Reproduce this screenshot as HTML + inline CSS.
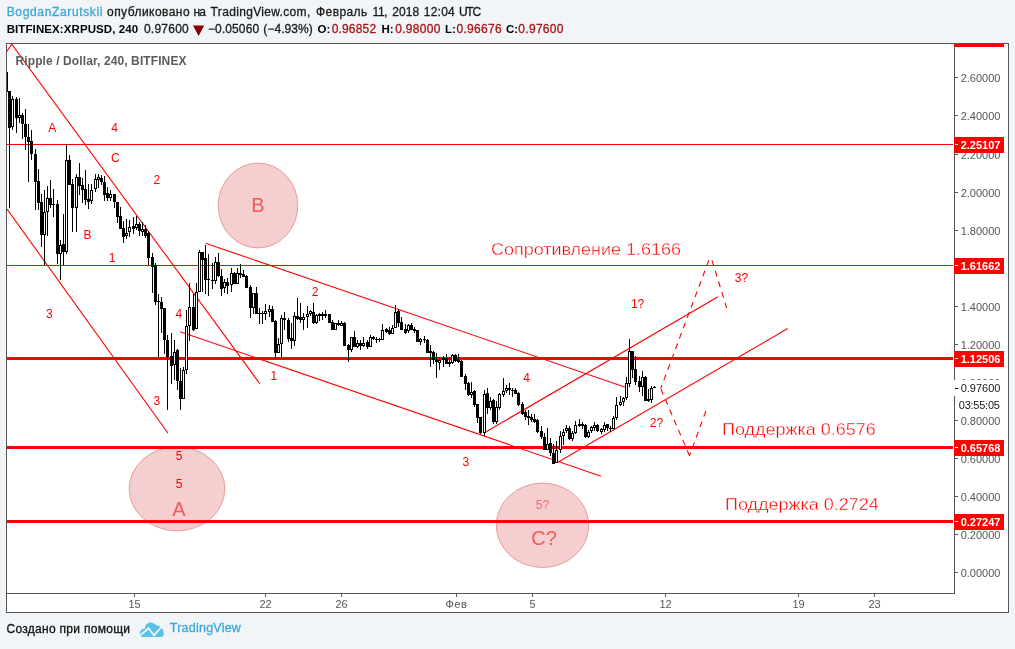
<!DOCTYPE html>
<html><head><meta charset="utf-8"><title>chart</title>
<style>
html,body{margin:0;padding:0;}
body{width:1015px;height:649px;background:#f1f5f8;position:relative;overflow:hidden;font-family:"Liberation Sans",sans-serif;}
.t{position:absolute;white-space:pre;line-height:1;}
#wrap{position:absolute;left:0;top:0;width:1015px;height:649px;will-change:transform;}
#box{position:absolute;left:6px;top:43px;width:1001px;height:568px;border:1px solid #555;background:#fff;}
svg{position:absolute;left:0;top:0;}
.tk{position:absolute;left:955px;width:3px;height:1px;background:#555;}
.ax{left:960.7px;font-size:11px;color:#555;}
.pl{position:absolute;left:954px;width:50px;height:16px;background:#f00;color:#fff;font-weight:bold;font-size:11px;line-height:17px;text-indent:6.7px;white-space:nowrap;}
.pl i{position:absolute;left:1px;top:7px;width:3px;height:1px;background:#fff;}
.tt{position:absolute;top:594px;width:1px;height:3px;background:#555;}
.tl{top:599px;width:40px;text-align:center;font-size:11px;color:#555;}
.lb{width:40px;text-align:center;font-size:12px;color:#f00;}
.big{width:60px;text-align:center;font-size:20px;color:#f35a5a;}

</style></head><body>
<div id="wrap">
<div id="box"></div>
<svg width="1015" height="649" viewBox="0 0 1015 649">
<defs><clipPath id="cp"><rect x="7" y="44" width="946" height="549"/></clipPath></defs>
<rect x="954" y="44" width="1" height="549" fill="#555"/>
<rect x="954" y="44" width="50" height="3" fill="#f00"/>
<rect x="7" y="593" width="948" height="1" fill="#555"/>
<path d="M193,25.5 L204.2,25.5 L198.6,36 Z" fill="#8b0000"/>
<path d="M142.6,637 C140.9,637 139.8,635.6 139.8,633.8 C139.8,631 141.8,628.7 144.9,628.4 C145.2,625.1 147.5,622.6 150.6,622.6 C152.8,622.6 154.6,623.6 155.8,625 C157.5,625.3 159.2,626 160.4,627 C162.6,628.6 163.8,631 163.8,633.5 C163.8,635.6 162.7,637 161,637 Z" fill="#57c1e6"/>
<path d="M140.3,635.4 L148.6,628.3 L154,635.4 L161.2,627.2" fill="none" stroke="#f8fbfd" stroke-width="1.7" stroke-linejoin="miter"/>

<g clip-path="url(#cp)">
<!--LABELS_UNDER-->
<ellipse cx="258" cy="205.5" rx="39.8" ry="42.4" fill="#f5cfcf" stroke="#ec9a9a" stroke-width="1"/>
<ellipse cx="177" cy="488.8" rx="47.8" ry="42" fill="#f5cfcf" stroke="#ec9a9a" stroke-width="1"/>
<ellipse cx="542.5" cy="525.3" rx="46.2" ry="42.2" fill="#f5cfcf" stroke="#ec9a9a" stroke-width="1"/>
<rect x="7" y="144" width="948" height="1" fill="#f00"/>
<rect x="7" y="265" width="948" height="1" fill="#f00"/>
<rect x="7" y="357" width="947" height="3" fill="#f00"/>
<rect x="7" y="446" width="947" height="3" fill="#f00"/>
<rect x="7" y="520" width="947" height="3" fill="#f00"/>
<line x1="6.75" y1="51.6" x2="11.7" y2="44.2" stroke="#f00" stroke-width="1.1"/>
<line x1="11.7" y1="44.2" x2="260" y2="384" stroke="#f00" stroke-width="1.1"/>
<line x1="7" y1="209" x2="168" y2="433.3" stroke="#f00" stroke-width="1.1"/>
<line x1="205.5" y1="243.2" x2="625.3" y2="387.3" stroke="#f00" stroke-width="1.1"/>
<line x1="180.1" y1="331.7" x2="601.1" y2="476.2" stroke="#f00" stroke-width="1.1"/>
<line x1="484.3" y1="432.8" x2="718" y2="296.7" stroke="#f00" stroke-width="1.1"/>
<line x1="557" y1="462.8" x2="787.7" y2="328.6" stroke="#f00" stroke-width="1.1"/>
<line x1="712.0" y1="260.3" x2="726.6" y2="307.8" stroke="#f00" stroke-width="1.1" stroke-dasharray="6 5.1"/>
<line x1="708.8" y1="260.3" x2="660.7" y2="388.5" stroke="#f00" stroke-width="1.1" stroke-dasharray="6 5.1"/>
<line x1="705.9" y1="411" x2="689.5" y2="455.8" stroke="#f00" stroke-width="1.1" stroke-dasharray="6 5.1"/>
<line x1="689.5" y1="455.8" x2="660.7" y2="388.5" stroke="#f00" stroke-width="1.1" stroke-dasharray="6 5.1"/>
<g shape-rendering="crispEdges" fill="#000">
<rect x="9" y="91" width="1" height="117"/>
<rect x="8" y="91" width="3" height="37"/>
<rect x="12" y="96" width="1" height="34"/>
<rect x="11" y="99" width="3" height="28"/>
<rect x="12" y="100" width="1" height="26" fill="#fff"/>
<rect x="16" y="97" width="1" height="36"/>
<rect x="15" y="99" width="3" height="19"/>
<rect x="19" y="98" width="1" height="25"/>
<rect x="18" y="115" width="3" height="3"/>
<rect x="19" y="116" width="1" height="1" fill="#fff"/>
<rect x="22" y="113" width="1" height="26"/>
<rect x="21" y="115" width="3" height="9"/>
<rect x="25" y="109" width="1" height="41"/>
<rect x="24" y="124" width="3" height="13"/>
<rect x="28" y="124" width="1" height="58"/>
<rect x="27" y="137" width="3" height="5"/>
<rect x="31" y="130" width="1" height="30"/>
<rect x="30" y="141" width="3" height="13"/>
<rect x="35" y="149" width="1" height="61"/>
<rect x="34" y="154" width="3" height="28"/>
<rect x="38" y="169" width="1" height="41"/>
<rect x="37" y="181" width="3" height="22"/>
<rect x="41" y="194" width="1" height="53"/>
<rect x="40" y="202" width="3" height="33"/>
<rect x="44" y="190" width="1" height="75"/>
<rect x="43" y="212" width="3" height="23"/>
<rect x="44" y="213" width="1" height="21" fill="#fff"/>
<rect x="47" y="186" width="1" height="50"/>
<rect x="46" y="198" width="3" height="14"/>
<rect x="47" y="199" width="1" height="12" fill="#fff"/>
<rect x="50" y="180" width="1" height="28"/>
<rect x="49" y="198" width="3" height="7"/>
<rect x="53" y="189" width="1" height="28"/>
<rect x="52" y="204" width="3" height="1"/>
<rect x="57" y="200" width="1" height="64"/>
<rect x="56" y="204" width="3" height="50"/>
<rect x="60" y="240" width="1" height="40"/>
<rect x="59" y="245" width="3" height="9"/>
<rect x="60" y="246" width="1" height="7" fill="#fff"/>
<rect x="63" y="214" width="1" height="51"/>
<rect x="62" y="244" width="3" height="8"/>
<rect x="66" y="144" width="1" height="110"/>
<rect x="65" y="160" width="3" height="92"/>
<rect x="66" y="161" width="1" height="90" fill="#fff"/>
<rect x="69" y="155" width="1" height="30"/>
<rect x="68" y="160" width="3" height="25"/>
<rect x="72" y="179" width="1" height="53"/>
<rect x="71" y="184" width="3" height="24"/>
<rect x="76" y="174" width="1" height="58"/>
<rect x="75" y="177" width="3" height="31"/>
<rect x="76" y="178" width="1" height="29" fill="#fff"/>
<rect x="79" y="163" width="1" height="32"/>
<rect x="78" y="177" width="3" height="9"/>
<rect x="82" y="178" width="1" height="25"/>
<rect x="81" y="185" width="3" height="5"/>
<rect x="85" y="170" width="1" height="35"/>
<rect x="84" y="189" width="3" height="11"/>
<rect x="88" y="184" width="1" height="25"/>
<rect x="87" y="199" width="3" height="3"/>
<rect x="91" y="184" width="1" height="20"/>
<rect x="90" y="190" width="3" height="11"/>
<rect x="91" y="191" width="1" height="9" fill="#fff"/>
<rect x="95" y="174" width="1" height="18"/>
<rect x="94" y="179" width="3" height="10"/>
<rect x="95" y="180" width="1" height="8" fill="#fff"/>
<rect x="98" y="174" width="1" height="14"/>
<rect x="97" y="177" width="3" height="3"/>
<rect x="98" y="178" width="1" height="1" fill="#fff"/>
<rect x="101" y="175" width="1" height="10"/>
<rect x="100" y="178" width="3" height="4"/>
<rect x="104" y="176" width="1" height="25"/>
<rect x="103" y="182" width="3" height="13"/>
<rect x="107" y="187" width="1" height="14"/>
<rect x="106" y="193" width="3" height="5"/>
<rect x="110" y="190" width="1" height="11"/>
<rect x="109" y="194" width="3" height="4"/>
<rect x="110" y="195" width="1" height="2" fill="#fff"/>
<rect x="114" y="194" width="1" height="14"/>
<rect x="113" y="194" width="3" height="8"/>
<rect x="117" y="202" width="1" height="21"/>
<rect x="116" y="202" width="3" height="15"/>
<rect x="120" y="207" width="1" height="22"/>
<rect x="119" y="216" width="3" height="13"/>
<rect x="123" y="221" width="1" height="22"/>
<rect x="122" y="228" width="3" height="9"/>
<rect x="126" y="219" width="1" height="20"/>
<rect x="125" y="233" width="3" height="3"/>
<rect x="126" y="234" width="1" height="1" fill="#fff"/>
<rect x="129" y="220" width="1" height="17"/>
<rect x="128" y="227" width="3" height="5"/>
<rect x="129" y="228" width="1" height="3" fill="#fff"/>
<rect x="133" y="217" width="1" height="17"/>
<rect x="132" y="226" width="3" height="3"/>
<rect x="136" y="216" width="1" height="14"/>
<rect x="135" y="224" width="3" height="4"/>
<rect x="136" y="225" width="1" height="2" fill="#fff"/>
<rect x="139" y="222" width="1" height="14"/>
<rect x="138" y="224" width="3" height="7"/>
<rect x="142" y="222" width="1" height="14"/>
<rect x="141" y="229" width="3" height="3"/>
<rect x="142" y="230" width="1" height="1" fill="#fff"/>
<rect x="145" y="225" width="1" height="13"/>
<rect x="144" y="229" width="3" height="7"/>
<rect x="148" y="231" width="1" height="34"/>
<rect x="147" y="233" width="3" height="25"/>
<rect x="152" y="253" width="1" height="40"/>
<rect x="151" y="257" width="3" height="10"/>
<rect x="155" y="263" width="1" height="42"/>
<rect x="154" y="265" width="3" height="37"/>
<rect x="158" y="294" width="1" height="63"/>
<rect x="157" y="301" width="3" height="1"/>
<rect x="161" y="297" width="1" height="36"/>
<rect x="160" y="302" width="3" height="7"/>
<rect x="164" y="308" width="1" height="46"/>
<rect x="163" y="308" width="3" height="32"/>
<rect x="167" y="335" width="1" height="75"/>
<rect x="166" y="340" width="3" height="17"/>
<rect x="171" y="333" width="1" height="51"/>
<rect x="170" y="356" width="3" height="10"/>
<rect x="174" y="340" width="1" height="40"/>
<rect x="173" y="352" width="3" height="13"/>
<rect x="174" y="353" width="1" height="11" fill="#fff"/>
<rect x="177" y="349" width="1" height="41"/>
<rect x="176" y="350" width="3" height="31"/>
<rect x="180" y="368" width="1" height="42"/>
<rect x="179" y="381" width="3" height="18"/>
<rect x="183" y="367" width="1" height="32"/>
<rect x="182" y="370" width="3" height="29"/>
<rect x="183" y="371" width="1" height="27" fill="#fff"/>
<rect x="186" y="310" width="1" height="64"/>
<rect x="185" y="326" width="3" height="44"/>
<rect x="186" y="327" width="1" height="42" fill="#fff"/>
<rect x="189" y="283" width="1" height="58"/>
<rect x="188" y="307" width="3" height="19"/>
<rect x="189" y="308" width="1" height="17" fill="#fff"/>
<rect x="193" y="294" width="1" height="37"/>
<rect x="192" y="307" width="3" height="23"/>
<rect x="196" y="283" width="1" height="46"/>
<rect x="195" y="292" width="3" height="37"/>
<rect x="196" y="293" width="1" height="35" fill="#fff"/>
<rect x="199" y="250" width="1" height="42"/>
<rect x="198" y="252" width="3" height="40"/>
<rect x="199" y="253" width="1" height="38" fill="#fff"/>
<rect x="202" y="252" width="1" height="40"/>
<rect x="201" y="252" width="3" height="8"/>
<rect x="205" y="245" width="1" height="49"/>
<rect x="204" y="258" width="3" height="22"/>
<rect x="208" y="254" width="1" height="42"/>
<rect x="207" y="279" width="3" height="1"/>
<rect x="212" y="263" width="1" height="26"/>
<rect x="211" y="280" width="3" height="1"/>
<rect x="215" y="257" width="1" height="27"/>
<rect x="214" y="262" width="3" height="19"/>
<rect x="215" y="263" width="1" height="17" fill="#fff"/>
<rect x="218" y="253" width="1" height="24"/>
<rect x="217" y="262" width="3" height="14"/>
<rect x="221" y="269" width="1" height="27"/>
<rect x="220" y="276" width="3" height="13"/>
<rect x="224" y="279" width="1" height="14"/>
<rect x="223" y="282" width="3" height="6"/>
<rect x="224" y="283" width="1" height="4" fill="#fff"/>
<rect x="227" y="278" width="1" height="16"/>
<rect x="226" y="282" width="3" height="4"/>
<rect x="231" y="268" width="1" height="24"/>
<rect x="230" y="273" width="3" height="12"/>
<rect x="231" y="274" width="1" height="10" fill="#fff"/>
<rect x="234" y="272" width="1" height="12"/>
<rect x="233" y="273" width="3" height="11"/>
<rect x="237" y="268" width="1" height="16"/>
<rect x="236" y="273" width="3" height="11"/>
<rect x="237" y="274" width="1" height="9" fill="#fff"/>
<rect x="240" y="264" width="1" height="14"/>
<rect x="239" y="273" width="3" height="2"/>
<rect x="243" y="270" width="1" height="7"/>
<rect x="242" y="274" width="3" height="3"/>
<rect x="246" y="275" width="1" height="13"/>
<rect x="245" y="276" width="3" height="12"/>
<rect x="250" y="285" width="1" height="33"/>
<rect x="249" y="287" width="3" height="21"/>
<rect x="253" y="293" width="1" height="21"/>
<rect x="252" y="293" width="3" height="15"/>
<rect x="253" y="294" width="1" height="13" fill="#fff"/>
<rect x="256" y="287" width="1" height="27"/>
<rect x="255" y="293" width="3" height="21"/>
<rect x="259" y="308" width="1" height="16"/>
<rect x="258" y="313" width="3" height="1"/>
<rect x="262" y="311" width="1" height="13"/>
<rect x="261" y="313" width="3" height="1"/>
<rect x="265" y="304" width="1" height="16"/>
<rect x="264" y="311" width="3" height="3"/>
<rect x="265" y="312" width="1" height="1" fill="#fff"/>
<rect x="269" y="305" width="1" height="12"/>
<rect x="268" y="309" width="3" height="3"/>
<rect x="269" y="310" width="1" height="1" fill="#fff"/>
<rect x="272" y="306" width="1" height="16"/>
<rect x="271" y="309" width="3" height="13"/>
<rect x="275" y="320" width="1" height="39"/>
<rect x="274" y="321" width="3" height="32"/>
<rect x="278" y="338" width="1" height="15"/>
<rect x="277" y="344" width="3" height="9"/>
<rect x="278" y="345" width="1" height="7" fill="#fff"/>
<rect x="281" y="315" width="1" height="42"/>
<rect x="280" y="318" width="3" height="26"/>
<rect x="281" y="319" width="1" height="24" fill="#fff"/>
<rect x="284" y="312" width="1" height="18"/>
<rect x="283" y="318" width="3" height="2"/>
<rect x="288" y="318" width="1" height="24"/>
<rect x="287" y="320" width="3" height="19"/>
<rect x="291" y="323" width="1" height="26"/>
<rect x="290" y="338" width="3" height="3"/>
<rect x="294" y="312" width="1" height="34"/>
<rect x="293" y="316" width="3" height="25"/>
<rect x="294" y="317" width="1" height="23" fill="#fff"/>
<rect x="297" y="298" width="1" height="22"/>
<rect x="296" y="316" width="3" height="3"/>
<rect x="300" y="303" width="1" height="20"/>
<rect x="299" y="317" width="3" height="3"/>
<rect x="303" y="313" width="1" height="17"/>
<rect x="302" y="317" width="3" height="3"/>
<rect x="303" y="318" width="1" height="1" fill="#fff"/>
<rect x="307" y="306" width="1" height="22"/>
<rect x="306" y="314" width="3" height="3"/>
<rect x="307" y="315" width="1" height="1" fill="#fff"/>
<rect x="310" y="310" width="1" height="6"/>
<rect x="309" y="311" width="3" height="3"/>
<rect x="310" y="312" width="1" height="1" fill="#fff"/>
<rect x="313" y="303" width="1" height="21"/>
<rect x="312" y="312" width="3" height="11"/>
<rect x="316" y="314" width="1" height="10"/>
<rect x="315" y="315" width="3" height="8"/>
<rect x="316" y="316" width="1" height="6" fill="#fff"/>
<rect x="319" y="313" width="1" height="8"/>
<rect x="318" y="314" width="3" height="2"/>
<rect x="322" y="312" width="1" height="8"/>
<rect x="321" y="314" width="3" height="2"/>
<rect x="325" y="310" width="1" height="8"/>
<rect x="324" y="314" width="3" height="2"/>
<rect x="329" y="314" width="1" height="9"/>
<rect x="328" y="314" width="3" height="9"/>
<rect x="332" y="320" width="1" height="10"/>
<rect x="331" y="322" width="3" height="8"/>
<rect x="335" y="323" width="1" height="7"/>
<rect x="334" y="323" width="3" height="7"/>
<rect x="335" y="324" width="1" height="5" fill="#fff"/>
<rect x="338" y="320" width="1" height="6"/>
<rect x="337" y="323" width="3" height="2"/>
<rect x="341" y="321" width="1" height="5"/>
<rect x="340" y="323" width="3" height="3"/>
<rect x="341" y="324" width="1" height="1" fill="#fff"/>
<rect x="344" y="322" width="1" height="24"/>
<rect x="343" y="323" width="3" height="23"/>
<rect x="348" y="344" width="1" height="18"/>
<rect x="347" y="345" width="3" height="5"/>
<rect x="351" y="337" width="1" height="15"/>
<rect x="350" y="337" width="3" height="13"/>
<rect x="351" y="338" width="1" height="11" fill="#fff"/>
<rect x="354" y="331" width="1" height="16"/>
<rect x="353" y="337" width="3" height="10"/>
<rect x="357" y="340" width="1" height="8"/>
<rect x="356" y="343" width="3" height="4"/>
<rect x="357" y="344" width="1" height="2" fill="#fff"/>
<rect x="360" y="340" width="1" height="10"/>
<rect x="359" y="343" width="3" height="3"/>
<rect x="363" y="337" width="1" height="10"/>
<rect x="362" y="343" width="3" height="3"/>
<rect x="363" y="344" width="1" height="1" fill="#fff"/>
<rect x="367" y="340" width="1" height="9"/>
<rect x="366" y="342" width="3" height="5"/>
<rect x="370" y="335" width="1" height="12"/>
<rect x="369" y="337" width="3" height="10"/>
<rect x="370" y="338" width="1" height="8" fill="#fff"/>
<rect x="373" y="336" width="1" height="4"/>
<rect x="372" y="337" width="3" height="2"/>
<rect x="376" y="337" width="1" height="6"/>
<rect x="375" y="339" width="3" height="1"/>
<rect x="379" y="338" width="1" height="4"/>
<rect x="378" y="339" width="3" height="1"/>
<rect x="382" y="324" width="1" height="16"/>
<rect x="381" y="330" width="3" height="10"/>
<rect x="382" y="331" width="1" height="8" fill="#fff"/>
<rect x="386" y="328" width="1" height="5"/>
<rect x="385" y="329" width="3" height="3"/>
<rect x="389" y="327" width="1" height="8"/>
<rect x="388" y="330" width="3" height="4"/>
<rect x="392" y="325" width="1" height="9"/>
<rect x="391" y="328" width="3" height="6"/>
<rect x="392" y="329" width="1" height="4" fill="#fff"/>
<rect x="395" y="305" width="1" height="23"/>
<rect x="394" y="312" width="3" height="16"/>
<rect x="395" y="313" width="1" height="14" fill="#fff"/>
<rect x="398" y="309" width="1" height="18"/>
<rect x="397" y="311" width="3" height="12"/>
<rect x="401" y="317" width="1" height="13"/>
<rect x="400" y="322" width="3" height="8"/>
<rect x="405" y="324" width="1" height="10"/>
<rect x="404" y="329" width="3" height="4"/>
<rect x="408" y="324" width="1" height="9"/>
<rect x="407" y="325" width="3" height="6"/>
<rect x="408" y="326" width="1" height="4" fill="#fff"/>
<rect x="411" y="323" width="1" height="7"/>
<rect x="410" y="325" width="3" height="5"/>
<rect x="414" y="327" width="1" height="6"/>
<rect x="413" y="329" width="3" height="2"/>
<rect x="417" y="330" width="1" height="12"/>
<rect x="416" y="330" width="3" height="12"/>
<rect x="420" y="338" width="1" height="7"/>
<rect x="419" y="339" width="3" height="3"/>
<rect x="420" y="340" width="1" height="1" fill="#fff"/>
<rect x="424" y="336" width="1" height="7"/>
<rect x="423" y="339" width="3" height="1"/>
<rect x="427" y="339" width="1" height="14"/>
<rect x="426" y="340" width="3" height="13"/>
<rect x="430" y="345" width="1" height="22"/>
<rect x="429" y="351" width="3" height="2"/>
<rect x="433" y="351" width="1" height="13"/>
<rect x="432" y="352" width="3" height="8"/>
<rect x="436" y="353" width="1" height="25"/>
<rect x="435" y="360" width="3" height="2"/>
<rect x="439" y="357" width="1" height="13"/>
<rect x="438" y="360" width="3" height="3"/>
<rect x="439" y="361" width="1" height="1" fill="#fff"/>
<rect x="443" y="356" width="1" height="11"/>
<rect x="442" y="358" width="3" height="2"/>
<rect x="446" y="354" width="1" height="10"/>
<rect x="445" y="358" width="3" height="6"/>
<rect x="449" y="357" width="1" height="10"/>
<rect x="448" y="362" width="3" height="2"/>
<rect x="452" y="354" width="1" height="10"/>
<rect x="451" y="355" width="3" height="8"/>
<rect x="452" y="356" width="1" height="6" fill="#fff"/>
<rect x="455" y="354" width="1" height="8"/>
<rect x="454" y="355" width="3" height="6"/>
<rect x="458" y="354" width="1" height="9"/>
<rect x="457" y="360" width="3" height="2"/>
<rect x="461" y="360" width="1" height="17"/>
<rect x="460" y="361" width="3" height="16"/>
<rect x="465" y="374" width="1" height="16"/>
<rect x="464" y="376" width="3" height="8"/>
<rect x="468" y="382" width="1" height="14"/>
<rect x="467" y="383" width="3" height="12"/>
<rect x="471" y="382" width="1" height="16"/>
<rect x="470" y="392" width="3" height="3"/>
<rect x="471" y="393" width="1" height="1" fill="#fff"/>
<rect x="474" y="390" width="1" height="17"/>
<rect x="473" y="391" width="3" height="14"/>
<rect x="477" y="404" width="1" height="19"/>
<rect x="476" y="404" width="3" height="14"/>
<rect x="480" y="417" width="1" height="17"/>
<rect x="479" y="417" width="3" height="16"/>
<rect x="484" y="390" width="1" height="46"/>
<rect x="483" y="394" width="3" height="39"/>
<rect x="484" y="395" width="1" height="37" fill="#fff"/>
<rect x="487" y="388" width="1" height="26"/>
<rect x="486" y="393" width="3" height="15"/>
<rect x="490" y="397" width="1" height="13"/>
<rect x="489" y="401" width="3" height="7"/>
<rect x="490" y="402" width="1" height="5" fill="#fff"/>
<rect x="493" y="399" width="1" height="25"/>
<rect x="492" y="400" width="3" height="22"/>
<rect x="496" y="401" width="1" height="23"/>
<rect x="495" y="407" width="3" height="15"/>
<rect x="496" y="408" width="1" height="13" fill="#fff"/>
<rect x="499" y="393" width="1" height="17"/>
<rect x="498" y="394" width="3" height="14"/>
<rect x="499" y="395" width="1" height="12" fill="#fff"/>
<rect x="503" y="378" width="1" height="19"/>
<rect x="502" y="391" width="3" height="4"/>
<rect x="503" y="392" width="1" height="2" fill="#fff"/>
<rect x="506" y="385" width="1" height="8"/>
<rect x="505" y="388" width="3" height="3"/>
<rect x="506" y="389" width="1" height="1" fill="#fff"/>
<rect x="509" y="383" width="1" height="12"/>
<rect x="508" y="388" width="3" height="2"/>
<rect x="512" y="388" width="1" height="9"/>
<rect x="511" y="390" width="3" height="1"/>
<rect x="515" y="388" width="1" height="6"/>
<rect x="514" y="390" width="3" height="4"/>
<rect x="518" y="392" width="1" height="14"/>
<rect x="517" y="393" width="3" height="12"/>
<rect x="522" y="402" width="1" height="13"/>
<rect x="521" y="404" width="3" height="10"/>
<rect x="525" y="410" width="1" height="10"/>
<rect x="524" y="412" width="3" height="5"/>
<rect x="528" y="410" width="1" height="15"/>
<rect x="527" y="416" width="3" height="2"/>
<rect x="531" y="414" width="1" height="8"/>
<rect x="530" y="417" width="3" height="3"/>
<rect x="534" y="414" width="1" height="9"/>
<rect x="533" y="419" width="3" height="3"/>
<rect x="537" y="419" width="1" height="14"/>
<rect x="536" y="420" width="3" height="12"/>
<rect x="541" y="426" width="1" height="13"/>
<rect x="540" y="431" width="3" height="6"/>
<rect x="544" y="433" width="1" height="17"/>
<rect x="543" y="437" width="3" height="13"/>
<rect x="547" y="428" width="1" height="22"/>
<rect x="546" y="444" width="3" height="6"/>
<rect x="547" y="445" width="1" height="4" fill="#fff"/>
<rect x="550" y="438" width="1" height="18"/>
<rect x="549" y="443" width="3" height="10"/>
<rect x="553" y="444" width="1" height="20"/>
<rect x="552" y="453" width="3" height="11"/>
<rect x="556" y="441" width="1" height="22"/>
<rect x="555" y="450" width="3" height="13"/>
<rect x="556" y="451" width="1" height="11" fill="#fff"/>
<rect x="560" y="431" width="1" height="22"/>
<rect x="559" y="436" width="3" height="14"/>
<rect x="560" y="437" width="1" height="12" fill="#fff"/>
<rect x="563" y="429" width="1" height="16"/>
<rect x="562" y="432" width="3" height="4"/>
<rect x="563" y="433" width="1" height="2" fill="#fff"/>
<rect x="566" y="425" width="1" height="8"/>
<rect x="565" y="428" width="3" height="3"/>
<rect x="566" y="429" width="1" height="1" fill="#fff"/>
<rect x="569" y="426" width="1" height="14"/>
<rect x="568" y="428" width="3" height="11"/>
<rect x="572" y="431" width="1" height="10"/>
<rect x="571" y="433" width="3" height="6"/>
<rect x="572" y="434" width="1" height="4" fill="#fff"/>
<rect x="575" y="421" width="1" height="13"/>
<rect x="574" y="425" width="3" height="8"/>
<rect x="575" y="426" width="1" height="6" fill="#fff"/>
<rect x="579" y="419" width="1" height="8"/>
<rect x="578" y="424" width="3" height="2"/>
<rect x="582" y="422" width="1" height="7"/>
<rect x="581" y="424" width="3" height="2"/>
<rect x="585" y="424" width="1" height="14"/>
<rect x="584" y="425" width="3" height="12"/>
<rect x="588" y="430" width="1" height="8"/>
<rect x="587" y="432" width="3" height="5"/>
<rect x="588" y="433" width="1" height="3" fill="#fff"/>
<rect x="591" y="426" width="1" height="7"/>
<rect x="590" y="427" width="3" height="4"/>
<rect x="591" y="428" width="1" height="2" fill="#fff"/>
<rect x="594" y="422" width="1" height="9"/>
<rect x="593" y="425" width="3" height="3"/>
<rect x="594" y="426" width="1" height="1" fill="#fff"/>
<rect x="597" y="424" width="1" height="8"/>
<rect x="596" y="425" width="3" height="6"/>
<rect x="601" y="428" width="1" height="6"/>
<rect x="600" y="429" width="3" height="3"/>
<rect x="601" y="430" width="1" height="1" fill="#fff"/>
<rect x="604" y="422" width="1" height="10"/>
<rect x="603" y="425" width="3" height="5"/>
<rect x="604" y="426" width="1" height="3" fill="#fff"/>
<rect x="607" y="424" width="1" height="7"/>
<rect x="606" y="424" width="3" height="4"/>
<rect x="610" y="426" width="1" height="6"/>
<rect x="609" y="428" width="3" height="1"/>
<rect x="613" y="416" width="1" height="13"/>
<rect x="612" y="418" width="3" height="11"/>
<rect x="613" y="419" width="1" height="9" fill="#fff"/>
<rect x="616" y="397" width="1" height="23"/>
<rect x="615" y="405" width="3" height="13"/>
<rect x="616" y="406" width="1" height="11" fill="#fff"/>
<rect x="620" y="396" width="1" height="10"/>
<rect x="619" y="402" width="3" height="3"/>
<rect x="620" y="403" width="1" height="1" fill="#fff"/>
<rect x="623" y="397" width="1" height="9"/>
<rect x="622" y="398" width="3" height="4"/>
<rect x="623" y="399" width="1" height="2" fill="#fff"/>
<rect x="626" y="377" width="1" height="23"/>
<rect x="625" y="383" width="3" height="15"/>
<rect x="626" y="384" width="1" height="13" fill="#fff"/>
<rect x="629" y="339" width="1" height="48"/>
<rect x="628" y="351" width="3" height="33"/>
<rect x="629" y="352" width="1" height="31" fill="#fff"/>
<rect x="632" y="351" width="1" height="27"/>
<rect x="631" y="351" width="3" height="19"/>
<rect x="635" y="356" width="1" height="29"/>
<rect x="634" y="369" width="3" height="13"/>
<rect x="639" y="376" width="1" height="16"/>
<rect x="638" y="381" width="3" height="6"/>
<rect x="642" y="371" width="1" height="25"/>
<rect x="641" y="377" width="3" height="10"/>
<rect x="642" y="378" width="1" height="8" fill="#fff"/>
<rect x="645" y="376" width="1" height="25"/>
<rect x="644" y="377" width="3" height="24"/>
<rect x="648" y="389" width="1" height="13"/>
<rect x="647" y="399" width="3" height="2"/>
<rect x="651" y="386" width="1" height="17"/>
<rect x="650" y="388" width="3" height="12"/>
<rect x="651" y="389" width="1" height="10" fill="#fff"/>
<rect x="654" y="386" width="1" height="2"/>
<rect x="653" y="387" width="3" height="1"/>
<rect x="7" y="72" width="1" height="20"/>
</g>
</g>
</svg>
<span class="t" style="left:6.70px;top:5.84px;font-size:12px;font-weight:normal;color:#3aa6d8;letter-spacing:0.649px;-webkit-text-stroke:0.3px #3aa6d8;">BogdanZarutskii</span>
<span class="t" style="left:107.00px;top:5.84px;font-size:12px;font-weight:normal;color:#1a1a1a;letter-spacing:0.452px;-webkit-text-stroke:0.3px #1a1a1a;">опубликовано</span>
<span class="t" style="left:193.50px;top:5.84px;font-size:12px;font-weight:normal;color:#1a1a1a;letter-spacing:-0.912px;-webkit-text-stroke:0.3px #1a1a1a;">на</span>
<span class="t" style="left:210.60px;top:5.84px;font-size:12px;font-weight:normal;color:#1a1a1a;letter-spacing:0.332px;-webkit-text-stroke:0.3px #1a1a1a;">TradingView.com,</span>
<span class="t" style="left:316.10px;top:5.84px;font-size:12px;font-weight:normal;color:#1a1a1a;letter-spacing:0.386px;-webkit-text-stroke:0.3px #1a1a1a;">Февраль</span>
<span class="t" style="left:372.60px;top:5.84px;font-size:12px;font-weight:normal;color:#1a1a1a;letter-spacing:-0.398px;-webkit-text-stroke:0.3px #1a1a1a;">11,</span>
<span class="t" style="left:392.30px;top:5.84px;font-size:12px;font-weight:normal;color:#1a1a1a;letter-spacing:0.032px;-webkit-text-stroke:0.3px #1a1a1a;">2018</span>
<span class="t" style="left:423.70px;top:5.84px;font-size:12px;font-weight:normal;color:#1a1a1a;letter-spacing:0.267px;-webkit-text-stroke:0.3px #1a1a1a;">12:04</span>
<span class="t" style="left:458.90px;top:5.84px;font-size:12px;font-weight:normal;color:#1a1a1a;letter-spacing:-1.236px;-webkit-text-stroke:0.3px #1a1a1a;">UTC</span>
<span class="t" style="left:6.70px;top:23.77px;font-size:11.5px;font-weight:bold;color:#000;letter-spacing:0.093px;">BITFINEX:XRPUSD, 240</span>
<span class="t" style="left:143.90px;top:23.34px;font-size:12px;font-weight:normal;color:#1a1a1a;letter-spacing:0.252px;-webkit-text-stroke:0.3px #1a1a1a;">0.97600</span>
<span class="t" style="left:208.00px;top:23.34px;font-size:12px;font-weight:normal;color:#1a1a1a;letter-spacing:0.101px;-webkit-text-stroke:0.3px #1a1a1a;">−0.05060</span>
<span class="t" style="left:263.30px;top:23.34px;font-size:12px;font-weight:normal;color:#1a1a1a;letter-spacing:0.067px;-webkit-text-stroke:0.3px #1a1a1a;">(−4.93%)</span>
<span class="t" style="left:317.60px;top:23.77px;font-size:11.5px;font-weight:bold;color:#000;letter-spacing:0.000px;">O:</span>
<span class="t" style="left:331.70px;top:23.34px;font-size:12px;font-weight:normal;color:#a81616;letter-spacing:0.168px;-webkit-text-stroke:0.3px #a81616;">0.96852</span>
<span class="t" style="left:381.40px;top:23.77px;font-size:11.5px;font-weight:bold;color:#000;letter-spacing:0.000px;">H:</span>
<span class="t" style="left:395.30px;top:23.34px;font-size:12px;font-weight:normal;color:#a81616;letter-spacing:0.285px;-webkit-text-stroke:0.3px #a81616;">0.98000</span>
<span class="t" style="left:445.10px;top:23.77px;font-size:11.5px;font-weight:bold;color:#000;letter-spacing:0.000px;">L:</span>
<span class="t" style="left:456.50px;top:23.34px;font-size:12px;font-weight:normal;color:#a81616;letter-spacing:0.285px;-webkit-text-stroke:0.3px #a81616;">0.96676</span>
<span class="t" style="left:506.00px;top:23.77px;font-size:11.5px;font-weight:bold;color:#000;letter-spacing:0.000px;">C:</span>
<span class="t" style="left:518.30px;top:23.34px;font-size:12px;font-weight:normal;color:#a81616;letter-spacing:0.302px;-webkit-text-stroke:0.3px #a81616;">0.97600</span>
<span class="t" style="left:15.50px;top:54.84px;font-size:12px;font-weight:bold;color:#5c5c5c;letter-spacing:0.102px;">Ripple / Dollar, 240, BITFINEX</span>
<span class="t" style="left:6.50px;top:622.84px;font-size:12px;font-weight:normal;color:#111;letter-spacing:0.286px;-webkit-text-stroke:0.3px #111;">Создано при помощи</span>
<span class="t" style="left:169.80px;top:622.42px;font-size:12.5px;font-weight:normal;color:#3aa6d8;letter-spacing:0.230px;-webkit-text-stroke:0.3px #3aa6d8;">TradingView</span>
<span class="t" style="left:490.60px;top:242.16px;font-size:16px;font-weight:normal;color:#f00;letter-spacing:0.000px;transform:scaleX(1.1220);transform-origin:0 0;-webkit-text-stroke:0.35px #fff;">Сопротивление 1.6166</span>
<span class="t" style="left:722.40px;top:422.26px;font-size:16px;font-weight:normal;color:#f00;letter-spacing:0.000px;transform:scaleX(1.1231);transform-origin:0 0;-webkit-text-stroke:0.35px #fff;">Поддержка 0.6576</span>
<span class="t" style="left:725.30px;top:497.06px;font-size:16px;font-weight:normal;color:#f00;letter-spacing:0.000px;transform:scaleX(1.1238);transform-origin:0 0;-webkit-text-stroke:0.35px #fff;">Поддержка 0.2724</span>
<div class="tk" style="top:572px"></div><span class="t ax" style="top:567.5px">0.00000</span>
<div class="tk" style="top:534px"></div><span class="t ax" style="top:529.5px">0.20000</span>
<div class="tk" style="top:496px"></div><span class="t ax" style="top:491.5px">0.40000</span>
<div class="tk" style="top:458px"></div><span class="t ax" style="top:453.5px">0.60000</span>
<div class="tk" style="top:420px"></div><span class="t ax" style="top:415.5px">0.80000</span>
<div class="tk" style="top:382px"></div><span class="t ax" style="top:377.5px">1.00000</span>
<div class="tk" style="top:344px"></div><span class="t ax" style="top:339.5px">1.20000</span>
<div class="tk" style="top:306px"></div><span class="t ax" style="top:301.5px">1.40000</span>
<div class="tk" style="top:268px"></div><span class="t ax" style="top:263.5px">1.60000</span>
<div class="tk" style="top:230px"></div><span class="t ax" style="top:225.5px">1.80000</span>
<div class="tk" style="top:192px"></div><span class="t ax" style="top:187.5px">2.00000</span>
<div class="tk" style="top:154px"></div><span class="t ax" style="top:149.5px">2.20000</span>
<div class="tk" style="top:115px"></div><span class="t ax" style="top:110.5px">2.40000</span>
<div class="tk" style="top:77px"></div><span class="t ax" style="top:72.5px">2.60000</span>
<div style="position:absolute;left:954px;top:380px;width:50px;height:16px;background:#fff;"></div>
<div class="tk" style="top:388px;background:#000"></div><span class="t ax" style="top:382.5px;color:#151515">0.97600</span>
<div style="position:absolute;left:955px;top:397px;width:49px;height:16px;background:#fff;"></div>
<span class="t ax" style="left:958.8px;top:399.5px;color:#151515;letter-spacing:-0.25px">03:55:05</span>
<div class="pl" style="top:137px"><i></i>2.25107</div>
<div class="pl" style="top:258px"><i></i>1.61662</div>
<div class="pl" style="top:351px"><i></i>1.12506</div>
<div class="pl" style="top:440px"><i></i>0.65768</div>
<div class="pl" style="top:514px"><i></i>0.27247</div>
<div class="tt" style="left:134px"></div><span class="t tl" style="left:114.5px">15</span>
<div class="tt" style="left:265px"></div><span class="t tl" style="left:245.5px">22</span>
<div class="tt" style="left:341px"></div><span class="t tl" style="left:321.5px">26</span>
<div class="tt" style="left:456px"></div><span class="t tl" style="left:436.5px;letter-spacing:0.5px">Фев</span>
<div class="tt" style="left:532px"></div><span class="t tl" style="left:512.5px">5</span>
<div class="tt" style="left:665px"></div><span class="t tl" style="left:645.5px">12</span>
<div class="tt" style="left:798px"></div><span class="t tl" style="left:778.5px">19</span>
<div class="tt" style="left:874px"></div><span class="t tl" style="left:854.5px">23</span>
<span class="t lb" style="left:32.2px;top:122.1px">A</span>
<span class="t lb" style="left:94.6px;top:122.1px">4</span>
<span class="t lb" style="left:95.4px;top:151.9px">C</span>
<span class="t lb" style="left:136.9px;top:174.0px">2</span>
<span class="t lb" style="left:67.4px;top:228.8px">B</span>
<span class="t lb" style="left:92.0px;top:252.0px">1</span>
<span class="t lb" style="left:29.3px;top:307.6px">3</span>
<span class="t lb" style="left:158.9px;top:307.6px">4</span>
<span class="t lb" style="left:136.8px;top:395.4px">3</span>
<span class="t lb" style="left:253.9px;top:369.7px">1</span>
<span class="t lb" style="left:295.1px;top:285.8px">2</span>
<span class="t lb" style="left:445.9px;top:455.6px">3</span>
<span class="t lb" style="left:506.7px;top:371.5px">4</span>
<span class="t lb" style="left:617.6px;top:298.4px">1?</span>
<span class="t lb" style="left:721.5px;top:271.7px">3?</span>
<span class="t lb" style="left:636.5px;top:416.8px">2?</span>
<span class="t lb" style="left:159.0px;top:450.2px">5</span>
<span class="t lb" style="left:159.0px;top:478.2px">5</span>
<span class="t big" style="left:228px;top:194.5px">B</span>
<span class="t big" style="left:149px;top:498.5px">A</span>
<span class="t big" style="left:514px;top:527.5px">C?</span>
<span class="t lb" style="left:522.4px;top:498.8px;color:#f26c6c">5?</span>
<!--MORE-->
</div>
</body></html>
